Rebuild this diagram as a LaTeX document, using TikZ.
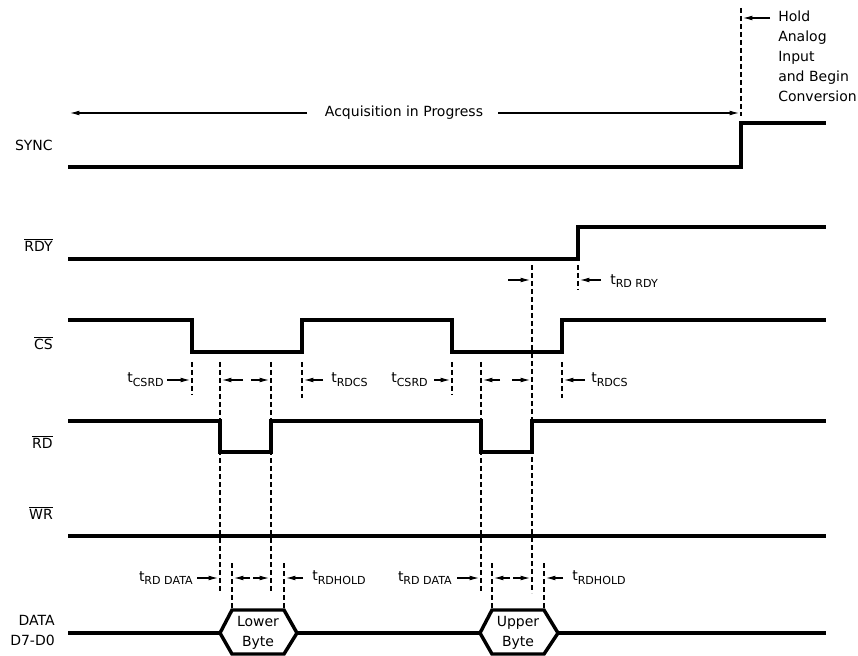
\documentclass[tikz,border=0pt]{standalone}
\usepackage{fontspec}
\setmainfont{DejaVu Sans}
\usetikzlibrary{arrows.meta}

\newcommand{\tsub}[1]{t\raisebox{-0.5ex}{\fontsize{8.3}{8.3}\selectfont #1}}
\newcommand{\ovl}[1]{$\overline{\mbox{#1}}$}

\tikzset{
  sig/.style={line width=2.6pt, line join=miter},
  guide/.style={line width=0.9pt, dash pattern=on 3.5pt off 2.5pt},
  dim/.style={line width=0.8pt, -{Latex[length=7pt,width=3.6pt]}},
  lbl/.style={font=\fontsize{10.5}{15}\selectfont, inner sep=0pt},
}

\begin{document}
\begin{tikzpicture}[x=0.75pt, y=-0.75pt]
\useasboundingbox (0,0) rectangle (858,656);

%% signal names
\node[lbl, anchor=east] (sync) at (53,145) {SYNC};
\node[lbl, anchor=east] (rdy) at (53,245) {\ovl{RDY}};
\node[lbl, anchor=east] (cs) at (53,343) {\ovl{CS}};
\node[lbl, anchor=east] (rd) at (53,442) {\ovl{RD}};
\node[lbl, anchor=east] (wr) at (53,513) {\ovl{WR}};
\node[lbl, anchor=east, align=right] (data) at (55,630) {DATA\\D7-D0};

%% guide lines
\draw[guide] (741,8) -- (741,116);      %% hold
\draw[guide] (532,265) -- (532,593);    %% rd rise 2
\draw[guide] (578,265) -- (578,290);    %% rdy rise
\draw[guide] (192,362) -- (192,395);    %% cs fall 1
\draw[guide] (302,362) -- (302,398);    %% cs rise 1
\draw[guide] (452,362) -- (452,395);    %% cs fall 2
\draw[guide] (562,362) -- (562,398);    %% cs rise 2
\draw[guide] (220,362) -- (220,593);    %% rd fall 1
\draw[guide] (271,362) -- (271,593);    %% rd rise 1
\draw[guide] (481,362) -- (481,593);    %% rd fall 2
\draw[guide] (232,563) -- (232,610);    %% data valid 1
\draw[guide] (284,563) -- (284,610);    %% data hold 1
\draw[guide] (492,563) -- (492,610);    %% data valid 2
\draw[guide] (544,563) -- (544,610);    %% data hold 2

%% waveforms
\draw[sig] (68,167) -- (741,167) -- (741,123) -- (826,123);   %% sync
\draw[sig] (68,259) -- (578,259) -- (578,227) -- (826,227);   %% rdy
\draw[sig] (68,320) -- (192,320) -- (192,352) -- (302,352) -- (302,320)
  -- (452,320) -- (452,352) -- (562,352) -- (562,320) -- (826,320);   %% cs
\draw[sig] (68,421) -- (220,421) -- (220,452) -- (271,452) -- (271,421)
  -- (481,421) -- (481,452) -- (532,452) -- (532,421) -- (826,421);   %% rd
\draw[sig] (68,536) -- (826,536);   %% wr
\draw[sig] (68,633) -- (220,633);   %% data
\draw[sig] (297,633) -- (480,633);
\draw[sig] (558,633) -- (826,633);
\draw[sig] (220,633) -- (232,610) -- (284,610) -- (297,633) -- (284,654) -- (232,654) -- cycle;   %% lower byte
\draw[sig] (480,633) -- (492,610) -- (544,610) -- (558,633) -- (544,654) -- (492,654) -- cycle;   %% upper byte
\node[lbl, align=center] (lower) at (258,633) {Lower\\Byte};
\node[lbl, align=center] (upper) at (518,633) {Upper\\Byte};

%% acquisition
\node[lbl] (acq) at (404,113) {Acquisition in Progress};
\draw[dim] (307,113) -- (70,113);
\draw[dim] (498,113) -- (739,113);

%% hold
\node[lbl, anchor=north west, align=left] (hold) at (778,11) {Hold\\Analog\\Input\\and Begin\\Conversion};
\draw[dim] (770,18) -- (743,18);

%% t rd rdy
\node[lbl, anchor=west] (trdrdy) at (610,281) {\tsub{RD RDY}};
\draw[dim] (508,280) -- (530,280);
\draw[dim] (601,280) -- (580,280);

%% cs / rd timing
\node[lbl, anchor=east] (tcsrd1) at (164,380) {\tsub{CSRD}};
\draw[dim] (167,380) -- (190,380);
\draw[dim] (243,380) -- (222,380);
\draw[dim] (251,380) -- (269,380);
\node[lbl, anchor=west] (trdcs1) at (331,380) {\tsub{RDCS}};
\draw[dim] (323,380) -- (304,380);

\node[lbl, anchor=east] (tcsrd2) at (428,380) {\tsub{CSRD}};
\draw[dim] (434,380) -- (450,380);
\draw[dim] (500,380) -- (483,380);
\draw[dim] (512,380) -- (530,380);
\node[lbl, anchor=west] (trdcs2) at (591,380) {\tsub{RDCS}};
\draw[dim] (585,380) -- (564,380);

%% data timing
\node[lbl, anchor=east] (trddata1) at (193,578) {\tsub{RD DATA}};
\draw[dim] (197,578) -- (218,578);
\draw[dim] (250,578) -- (234,578);
\draw[dim] (253,578) -- (269,578);
\node[lbl, anchor=west] (trdhold1) at (312,578) {\tsub{RDHOLD}};
\draw[dim] (303,578) -- (286,578);

\node[lbl, anchor=east] (trddata2) at (452,578) {\tsub{RD DATA}};
\draw[dim] (457,578) -- (479,578);
\draw[dim] (510,578) -- (494,578);
\draw[dim] (513,578) -- (530,578);
\node[lbl, anchor=west] (trdhold2) at (572,578) {\tsub{RDHOLD}};
\draw[dim] (563,578) -- (546,578);

\end{tikzpicture}
\end{document}
